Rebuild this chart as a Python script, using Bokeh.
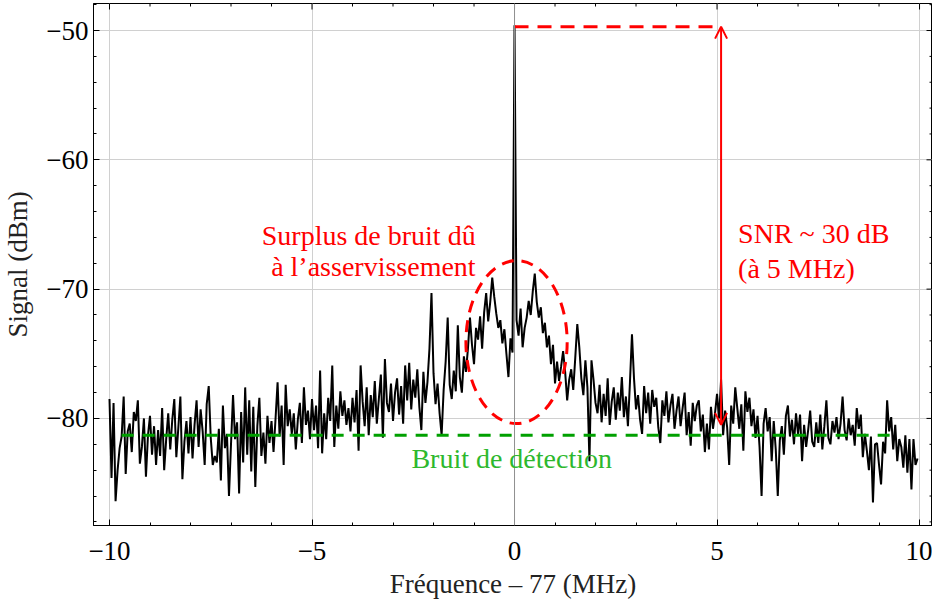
import numpy as np
from bokeh.plotting import figure
from bokeh.models import (SingleIntervalTicker, Range1d, Arrow, OpenHead,
                          ColumnDataSource, Span, Label)
from bokeh.embed import file_html
from bokeh.resources import INLINE

# ---------------- data ----------------
freq_start = -10.0
freq_step = 0.05

seg_m10 = [-78.5, -84.6, -78.8, -86.4, -84.0, -82.3, -81.4, -78.3, -84.3, -81.0,
           -80.4, -82.6, -79.5, -80.2, -78.6, -83.5, -82.2, -80.0, -84.5, -81.3]
seg_m9 = [-79.8, -82.8, -80.6, -83.6, -80.9, -82.9, -79.2, -84.0, -81.6, -79.6,
          -82.4, -80.1, -78.5, -83.0, -80.7, -78.3, -84.7, -81.8, -80.2, -82.7]
seg_m8 = [-79.9, -83.1, -80.5, -78.6, -82.2, -79.3, -81.0, -83.6, -78.9, -77.5,
          -81.5, -83.6, -82.9, -83.4, -80.8, -84.8, -79.0, -82.3, -81.2, -86.0]
seg_m7 = [-82.0, -78.2, -81.6, -80.3, -85.8, -79.5, -83.4, -77.6, -82.8, -78.6,
          -84.1, -79.1, -85.3, -80.6, -78.4, -82.9, -81.1, -83.5, -79.8, -81.9]
seg_m6 = [-80.2, -82.6, -80.0, -77.2, -81.4, -79.0, -83.6, -77.4, -80.6, -79.3,
          -81.2, -79.6, -82.4, -80.1, -78.8, -81.9, -77.6, -80.5, -79.4, -81.6]
seg_m5 = [-78.5, -80.9, -79.0, -82.3, -76.3, -82.7, -79.6, -81.6, -78.4, -80.2,
          -75.9, -82.2, -79.0, -80.8, -77.9, -79.8, -78.6, -80.5, -79.2, -81.0]
seg_m4 = [-78.4, -80.3, -77.8, -82.5, -75.9, -78.7, -80.6, -77.6, -81.3, -78.2,
          -79.9, -77.1, -80.4, -78.5, -76.6, -81.5, -75.4, -78.8, -79.5, -77.3]
seg_m3 = [-80.2, -78.0, -76.9, -79.7, -77.5, -80.4, -75.9, -78.6, -75.7, -79.3,
          -77.0, -78.4, -76.2, -79.1, -80.9, -76.4, -78.8, -77.2, -74.6, -70.3]
seg_m2 = [-76.5, -78.9, -77.3, -79.6, -81.3, -77.8, -75.6, -72.2, -77.4, -78.5,
          -76.3, -77.9, -72.8, -76.8, -78.0, -75.2, -76.4, -74.6, -72.2, -74.3]
seg_m1 = [-75.8, -73.0, -73.9, -72.1, -74.6, -71.8, -70.3, -72.5, -71.0, -69.1,
          -70.6, -71.9, -73.0, -72.4, -74.2, -73.1, -75.0, -76.8, -73.8, -74.9]
carrier = [-49.6]
seg_p0 = [-72.4, -73.6, -71.5, -74.5, -73.0, -72.2, -70.9, -72.0, -70.2, -68.8,
          -71.0, -72.2, -71.4, -73.4, -72.6, -74.5, -73.6, -75.8, -74.3, -77.3]
seg_p1 = [-75.6, -77.1, -76.0, -74.8, -76.4, -78.6, -77.0, -76.2, -77.8, -75.3,
          -72.7, -74.5, -76.9, -78.2, -75.5, -77.6, -83.3, -75.5, -77.0, -78.8]
seg_p2 = [-79.6, -77.4, -80.3, -78.1, -79.8, -76.9, -80.5, -78.7, -77.6, -80.1,
          -78.0, -79.4, -76.8, -79.9, -78.3, -80.6, -77.2, -73.5, -76.9, -79.3]
seg_p3 = [-78.2, -80.1, -81.2, -77.5, -79.6, -78.0, -80.4, -77.8, -79.1, -78.4,
          -80.7, -81.9, -78.6, -79.8, -77.9, -80.3, -79.0, -78.1, -80.8, -79.4]
seg_p4 = [-78.3, -80.6, -79.2, -78.0, -81.3, -79.5, -82.1, -78.8, -80.2, -79.0,
          -78.6, -81.0, -79.7, -82.6, -80.4, -82.4, -79.1, -80.8, -79.6, -78.1]
seg_p5 = [-80.0, -77.0, -81.3, -79.4, -80.7, -83.6, -79.0, -80.4, -77.6, -79.2,
          -80.8, -78.9, -82.5, -77.9, -79.5, -78.4, -80.6, -79.3, -81.5, -79.8]
seg_p6 = [-82.2, -86.0, -80.4, -79.2, -81.0, -79.9, -83.3, -80.2, -82.4, -86.0,
          -81.7, -80.6, -82.8, -79.8, -79.0, -81.4, -80.1, -82.0, -79.6, -81.2]
seg_p7 = [-79.7, -83.3, -80.5, -82.2, -80.9, -79.4, -81.8, -82.2, -80.3, -81.9,
          -79.7, -82.4, -80.6, -78.6, -81.5, -82.0, -80.2, -81.1, -79.9, -81.6]
seg_p8 = [-80.4, -78.3, -80.9, -81.7, -80.0, -81.3, -80.5, -82.1, -79.2, -80.8,
          -79.7, -83.0, -81.2, -82.5, -84.0, -81.4, -86.5, -82.0, -81.9, -83.6]
seg_p9 = [-85.1, -81.8, -82.7, -78.6, -81.0, -79.9, -82.4, -80.5, -83.3, -81.6,
          -82.2, -83.8, -81.3, -84.2, -81.6, -85.5, -81.6, -83.6, -83.1]

signal_dbm = (seg_m10 + seg_m9 + seg_m8 + seg_m7 + seg_m6 + seg_m5 + seg_m4 + seg_m3 +
              seg_m2 + seg_m1 + carrier + seg_p0 + seg_p1 + seg_p2 + seg_p3 + seg_p4 +
              seg_p5 + seg_p6 + seg_p7 + seg_p8 + seg_p9)
freq = [round(freq_start + i * freq_step, 3) for i in range(len(signal_dbm))]

detection_noise_db = -81.3
detection_span = [-9.7, 9.45]
carrier_level = -49.7
snr_freq = 5.1
snr_floor = -80.5
excess_center = (0.05, -74.1)
excess_size = (2.5, 12.6)

x_ticks = [-10, -5, 0, 5, 10]
x_minor_ticks = [v for v in range(-10, 11) if v % 5 != 0]
y_ticks = [-80, -70, -60, -50]
y_minor_ticks = [v for v in range(-88, -47, 2) if v % 10 != 0]

X_LO, X_HI = -10.395, 10.32
Y_LO, Y_HI = -88.28, -47.91

FONT = "Liberation Serif"
FS = "27px"
FS_ANN = "28px"
RED = "#ff0000"
GREEN_LINE = "#00a000"
GREEN_TEXT = "#2db82d"

p = figure(width=932, height=601, output_backend="svg", toolbar_location=None,
           x_range=Range1d(X_LO, X_HI), y_range=Range1d(Y_LO, Y_HI),
           min_border_left=92, min_border_right=0, min_border_top=3, min_border_bottom=0,
           x_axis_label="Fréquence – 77 (MHz)", y_axis_label="Signal (dBm)")
p.outline_line_color = "black"
p.outline_line_width = 1
p.background_fill_color = "white"
p.border_fill_color = "white"

for ax, ticks, iv in ((p.xaxis[0], x_ticks, 5), (p.yaxis[0], y_ticks, 10)):
    ax.ticker = SingleIntervalTicker(interval=iv, num_minor_ticks=5)
    ax.major_label_overrides = {t: (("−" + str(abs(t))) if t < 0 else str(t)) for t in ticks}
    ax.major_tick_in = 6
    ax.major_tick_out = 0
    ax.minor_tick_in = 3
    ax.minor_tick_out = 0
    ax.axis_line_color = "black"
    ax.major_label_text_font = FONT
    ax.major_label_text_font_size = FS
    ax.axis_label_text_font = FONT
    ax.axis_label_text_font_size = FS
    ax.axis_label_text_font_style = "normal"
    ax.major_label_text_color = "black"
    ax.axis_label_text_color = "#222222"

p.xaxis.major_label_standoff = 16
p.yaxis.major_label_standoff = 5
p.xaxis.axis_label_standoff = 6
p.yaxis.axis_label_standoff = 10

p.xgrid.grid_line_color = "#d0d0d0"
p.ygrid.grid_line_color = "#d0d0d0"
p.xgrid.ticker = SingleIntervalTicker(interval=5)
p.ygrid.ticker = SingleIntervalTicker(interval=10)

p.add_layout(Span(location=0, dimension="height", line_color="#909090", line_width=1))

# mirrored inward ticks on the top and right frame edges
p.ray(x=x_ticks, y=[Y_HI] * len(x_ticks), length=6, angle=-np.pi / 2,
      length_units="screen", line_color="black", line_width=1)
p.ray(x=x_minor_ticks, y=[Y_HI] * len(x_minor_ticks), length=3, angle=-np.pi / 2,
      length_units="screen", line_color="black", line_width=1)
p.ray(x=[X_HI] * len(y_ticks), y=y_ticks, length=6, angle=np.pi,
      length_units="screen", line_color="black", line_width=1)
p.ray(x=[X_HI] * len(y_minor_ticks), y=y_minor_ticks, length=3, angle=np.pi,
      length_units="screen", line_color="black", line_width=1)

# spectrum
src = ColumnDataSource(dict(x=freq, y=signal_dbm))
p.line("x", "y", source=src, line_color="black", line_width=2)

# detection noise floor
p.line(detection_span, [detection_noise_db, detection_noise_db], line_color=GREEN_LINE,
       line_width=3, line_dash="12 9")
p.add_layout(Label(x=-0.07, y=-83.1, text="Bruit de détection", text_font=FONT,
                   text_font_size=FS_ANN, text_color=GREEN_TEXT, text_align="center",
                   text_baseline="middle"))

# excess noise ellipse
p.ellipse(x=[excess_center[0]], y=[excess_center[1]], width=[excess_size[0]],
          height=[excess_size[1]], fill_alpha=0, line_color=RED, line_width=3,
          line_dash="12 8")
p.add_layout(Label(x=-0.96, y=-65.85, text="Surplus de bruit dû", text_font=FONT,
                   text_font_size=FS_ANN, text_color=RED, text_align="right",
                   text_baseline="middle"))
p.add_layout(Label(x=-0.96, y=-68.25, text="à l’asservissement", text_font=FONT,
                   text_font_size=FS_ANN, text_color=RED, text_align="right",
                   text_baseline="middle"))

# SNR annotation
p.line([0, snr_freq], [carrier_level, carrier_level], line_color=RED, line_width=3,
       line_dash="14 9")
p.add_layout(Arrow(x_start=snr_freq, y_start=snr_floor, x_end=snr_freq, y_end=carrier_level,
                   line_color=RED, line_width=2,
                   start=OpenHead(size=12, line_color=RED, line_width=2),
                   end=OpenHead(size=12, line_color=RED, line_width=2)))
p.add_layout(Label(x=5.52, y=-65.7, text="SNR ~ 30 dB", text_font=FONT,
                   text_font_size=FS_ANN, text_color=RED, text_align="left",
                   text_baseline="middle"))
p.add_layout(Label(x=5.52, y=-68.4, text="(à 5 MHz)", text_font=FONT,
                   text_font_size=FS_ANN, text_color=RED, text_align="left",
                   text_baseline="middle"))

open("out.html", "w").write(file_html(p, INLINE))
